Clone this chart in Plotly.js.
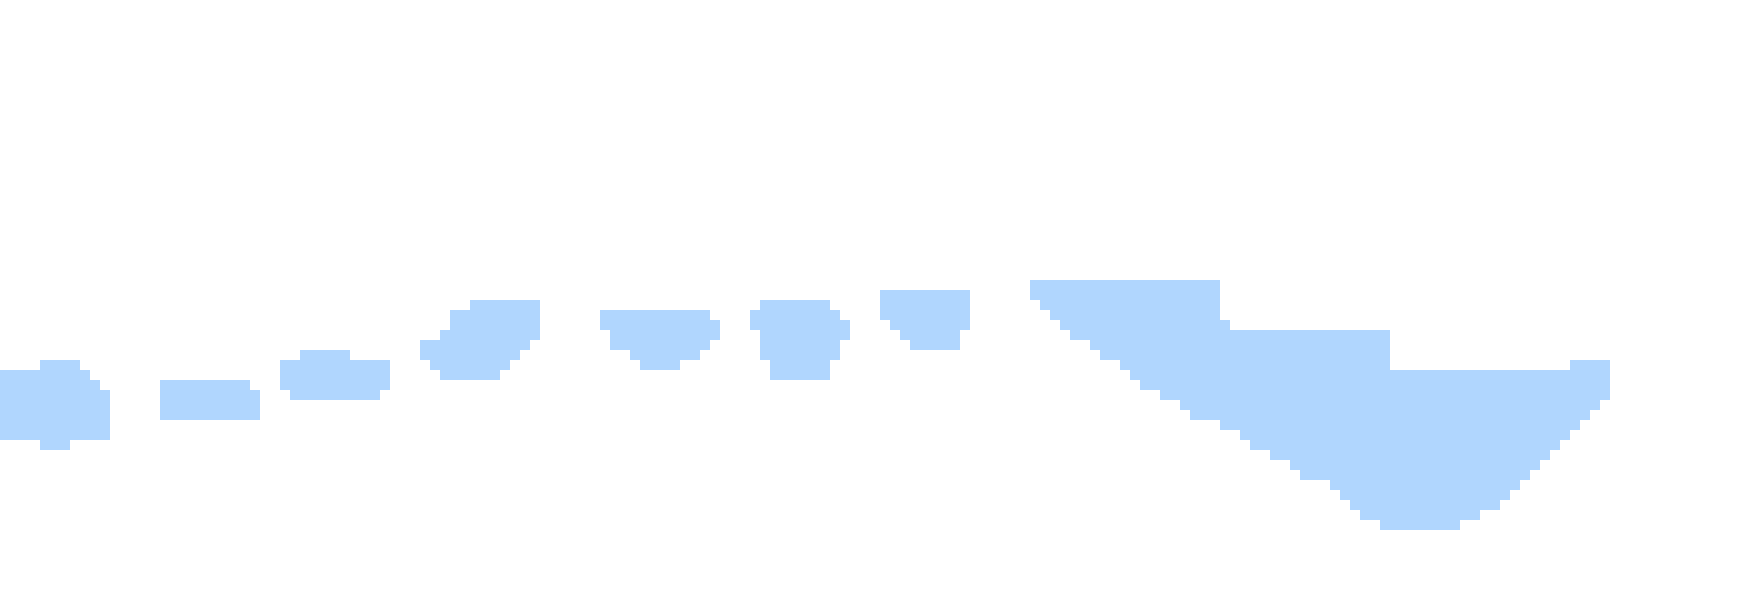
<!DOCTYPE html>
<html>
<head>
<meta charset="utf-8">
<script src="https://cdn.plot.ly/plotly-3.0.1.min.js"></script>
<style>
  html, body { margin: 0; padding: 0; background: #fff; }
  #chart { width: 1750px; height: 600px; }
</style>
</head>
<body>
<div id="chart"></div>
<script>
// ---- Band data: one column per x step ----
// Each segment starts at a column index; upper / lower give the band edges.
const segStart = [0, 16, 28, 42, 60, 75, 88, 103];

const segUpper = [
  [23, 23, 23, 23, 24, 24, 24, 24, 23, 22, 21],
  [22, 22, 22, 22, 22, 22, 22, 22, 22, 21],
  [24, 24, 25, 25, 25, 25, 25, 24, 24, 24, 24],
  [26, 26, 27, 29, 29, 30, 30, 30, 30, 30, 30, 30],
  [29, 29, 29, 29, 29, 29, 29, 29, 29, 29, 29, 28],
  [29, 30, 30, 30, 30, 30, 30, 30, 29, 28],
  [31, 31, 31, 31, 31, 31, 31, 31, 31],
  [32, 32, 32, 32, 32, 32, 32, 32, 32, 32, 32, 32, 32, 32, 32, 32, 32, 32, 32,
   28,
   27, 27, 27, 27, 27, 27, 27, 27, 27, 27, 27, 27, 27, 27, 27, 27,
   23, 23, 23, 23, 23, 23, 23, 23, 23, 23, 23, 23, 23, 23, 23, 23, 23, 23,
   24, 24, 24, 24]
];

const segLower = [
  [16, 16, 16, 16, 15, 15, 15, 16, 16, 16, 16],
  [18, 18, 18, 18, 18, 18, 18, 18, 18, 18],
  [21, 20, 20, 20, 20, 20, 20, 20, 20, 20, 21],
  [24, 23, 22, 22, 22, 22, 22, 22, 23, 24, 25, 26],
  [27, 25, 25, 24, 23, 23, 23, 23, 24, 24, 25, 26],
  [27, 24, 22, 22, 22, 22, 22, 22, 24, 26],
  [28, 27, 26, 25, 25, 25, 25, 25, 27],
  [30, 29, 28, 27, 26, 26, 25, 24, 24, 23, 22, 21, 21, 20, 20, 19, 18, 18, 18,
   17, 17, 16, 15, 15, 14, 14, 13, 12, 12, 12, 11, 10, 9, 8, 8,
   7, 7, 7, 7, 7, 7, 7, 7, 8, 8, 9, 9, 10, 11, 12, 13, 14, 15, 16, 17, 18, 19, 20]
];

const BAND_COLOR = '#b0d6fe';

// ---- Build floating bars (base = lower edge, height = band width) ----
const xs = [], bases = [], heights = [];
segStart.forEach((start, s) => {
  segUpper[s].forEach((up, j) => {
    const lo = segLower[s][j];
    xs.push(start + j + 0.5);
    bases.push(lo);
    heights.push(up - lo);
  });
});

Plotly.newPlot('chart', [{
  type: 'bar',
  x: xs,
  y: heights,
  base: bases,
  width: 1,
  marker: { color: BAND_COLOR, line: { width: 0 } },
  hoverinfo: 'skip'
}], {
  width: 1750,
  height: 600,
  margin: { t: 0, r: 0, b: 0, l: 0 },
  paper_bgcolor: '#ffffff',
  plot_bgcolor: '#ffffff',
  bargap: 0,
  showlegend: false,
  xaxis: { range: [0, 175], visible: false, fixedrange: true },
  yaxis: { range: [0, 60], visible: false, fixedrange: true }
}, { displayModeBar: false, staticPlot: true });
</script>
</body>
</html>
